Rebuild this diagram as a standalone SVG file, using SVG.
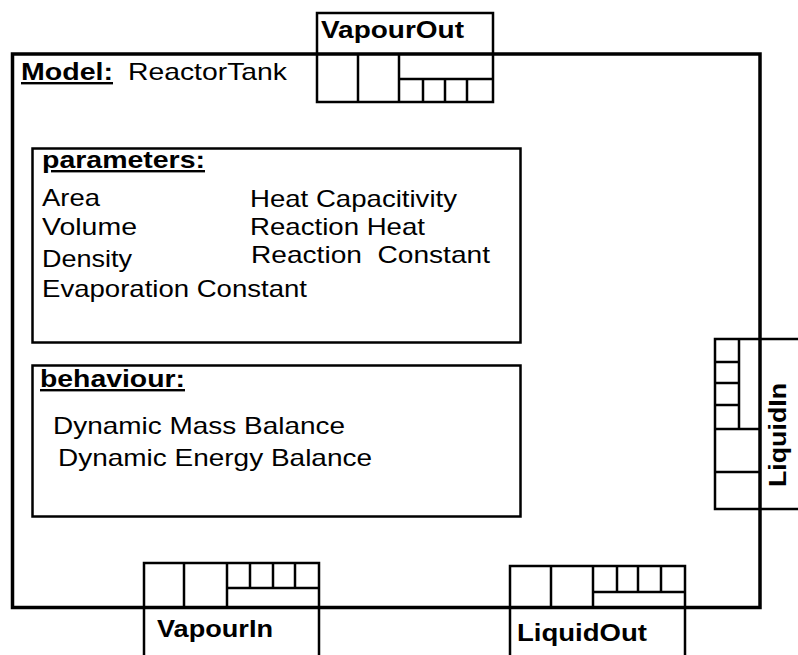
<svg xmlns="http://www.w3.org/2000/svg" width="798" height="655" viewBox="0 0 798 655">
<style>
  .t { font-family: "Liberation Sans", Arial, sans-serif; font-size: 24px; fill: #000; }
  .b { font-weight: bold; }
  .u { text-decoration: underline; }
  .frame { fill: none; stroke: #000; stroke-width: 3.5; }
  .box { fill: none; stroke: #000; stroke-width: 2.5; }
  .cell { fill: none; stroke: #000; stroke-width: 2.5; }
</style>
<rect width="798" height="655" fill="#fff"/>

<g id="model">
  <rect class="frame" x="12.5" y="54" width="747.5" height="553.5"/>
  <text class="t b u" x="21" y="80" textLength="92" lengthAdjust="spacingAndGlyphs">Model:</text>
  <text class="t" x="128" y="80" textLength="159" lengthAdjust="spacingAndGlyphs">ReactorTank</text>
</g>

<g id="parameters">
  <rect class="box" x="32.5" y="148.5" width="488" height="194"/>
  <text class="t b u" x="42" y="168" textLength="163" lengthAdjust="spacingAndGlyphs">parameters:</text>
  <text class="t" x="42" y="206" textLength="58" lengthAdjust="spacingAndGlyphs">Area</text>
  <text class="t" x="42" y="235" textLength="95" lengthAdjust="spacingAndGlyphs">Volume</text>
  <text class="t" x="42" y="267" textLength="90" lengthAdjust="spacingAndGlyphs">Density</text>
  <text class="t" x="42" y="297" textLength="265" lengthAdjust="spacingAndGlyphs">Evaporation Constant</text>
  <text class="t" x="250" y="207" textLength="207" lengthAdjust="spacingAndGlyphs">Heat Capacitivity</text>
  <text class="t" x="250" y="235" textLength="175" lengthAdjust="spacingAndGlyphs">Reaction Heat</text>
  <text class="t" x="251" y="263" textLength="239" lengthAdjust="spacingAndGlyphs" xml:space="preserve">Reaction  Constant</text>
</g>

<g id="behaviour">
  <rect class="box" x="32.5" y="365.5" width="488" height="151"/>
  <text class="t b u" x="40" y="387" textLength="145" lengthAdjust="spacingAndGlyphs">behaviour:</text>
  <text class="t" x="53" y="434" textLength="292" lengthAdjust="spacingAndGlyphs">Dynamic Mass Balance</text>
  <text class="t" x="58" y="466" textLength="314" lengthAdjust="spacingAndGlyphs">Dynamic Energy Balance</text>
</g>

<g id="port-VapourOut">
  <rect class="cell" x="317" y="13" width="176" height="89"/>
  <line class="cell" x1="358" y1="54" x2="358" y2="102"/>
  <line class="cell" x1="399" y1="54" x2="399" y2="102"/>
  <line class="cell" x1="399" y1="79" x2="493" y2="79"/>
  <line class="cell" x1="423" y1="79" x2="423" y2="102"/>
  <line class="cell" x1="445" y1="79" x2="445" y2="102"/>
  <line class="cell" x1="467" y1="79" x2="467" y2="102"/>
  <text class="t b" x="321" y="38" textLength="143" lengthAdjust="spacingAndGlyphs">VapourOut</text>
</g>

<g id="port-VapourIn">
  <path class="cell" d="M144,660 V563 H319 V660"/>
  <line class="cell" x1="184" y1="563" x2="184" y2="607"/>
  <line class="cell" x1="227" y1="563" x2="227" y2="607"/>
  <line class="cell" x1="227" y1="588" x2="319" y2="588"/>
  <line class="cell" x1="250" y1="563" x2="250" y2="588"/>
  <line class="cell" x1="273" y1="563" x2="273" y2="588"/>
  <line class="cell" x1="295" y1="563" x2="295" y2="588"/>
  <text class="t b" x="157" y="637" textLength="116" lengthAdjust="spacingAndGlyphs">VapourIn</text>
</g>

<g id="port-LiquidOut">
  <path class="cell" d="M510,660 V566 H685 V660"/>
  <line class="cell" x1="551" y1="566" x2="551" y2="607"/>
  <line class="cell" x1="593" y1="566" x2="593" y2="607"/>
  <line class="cell" x1="593" y1="592" x2="685" y2="592"/>
  <line class="cell" x1="617" y1="566" x2="617" y2="592"/>
  <line class="cell" x1="638" y1="566" x2="638" y2="592"/>
  <line class="cell" x1="661" y1="566" x2="661" y2="592"/>
  <text class="t b" x="517" y="641" textLength="130" lengthAdjust="spacingAndGlyphs">LiquidOut</text>
</g>

<g id="port-LiquidIn">
  <path class="cell" d="M800,339 H715 V509 H800"/>
  <line class="cell" x1="739" y1="339" x2="739" y2="429"/>
  <line class="cell" x1="715" y1="362" x2="739" y2="362"/>
  <line class="cell" x1="715" y1="383" x2="739" y2="383"/>
  <line class="cell" x1="715" y1="405" x2="739" y2="405"/>
  <line class="cell" x1="715" y1="429" x2="760" y2="429"/>
  <line class="cell" x1="715" y1="472" x2="760" y2="472"/>
  <text class="t b" transform="translate(786,487) rotate(-90)" x="0" y="0" textLength="104" lengthAdjust="spacingAndGlyphs">LiquidIn</text>
</g>

<g id="connectors"/>
</svg>
